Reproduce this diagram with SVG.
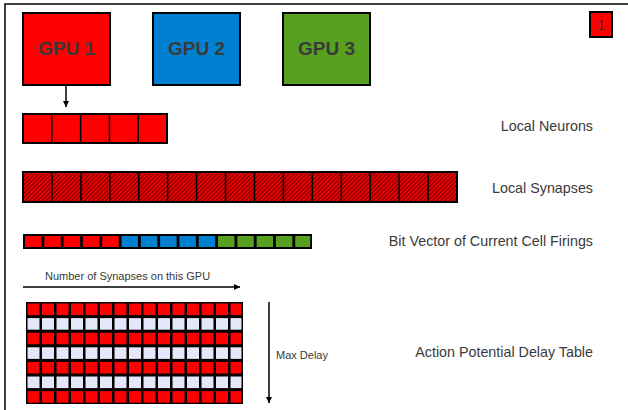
<svg xmlns="http://www.w3.org/2000/svg" width="628" height="410" viewBox="0 0 628 410">
  <style>
    .box { stroke: #000; stroke-width: 2; }
    .cell { stroke: #000; stroke-width: 1.5; }
    .red { fill: #ff0000; }
    .blue { fill: #0080d0; }
    .green { fill: #58a020; }
    .light { fill: #e6e6fa; }
    .gpu { font-family: "Liberation Sans", Arial, sans-serif; font-weight: bold; font-size: 19px; fill: #3a3a3a; text-anchor: middle; }
    .lbl { font-family: "Liberation Sans", Arial, sans-serif; font-size: 14.3px; fill: #3a3a3a; text-anchor: end; }
    .badge { font-family: "Liberation Sans", Arial, sans-serif; font-size: 15px; fill: #333; text-anchor: middle; }
    .small { font-family: "Liberation Sans", Arial, sans-serif; font-size: 11px; fill: #3a3a3a; }
    .line { stroke: #000; stroke-width: 1.5; fill: none; }
  </style>
  <defs>
    <pattern id="hatch" width="3" height="3" patternUnits="userSpaceOnUse" patternTransform="rotate(45)">
      <rect width="3" height="3" fill="#f00000"/>
      <rect width="1.1" height="3" fill="#700000"/>
    </pattern>
    <marker id="arrow" viewBox="0 0 10 10" refX="10" refY="5" markerWidth="6" markerHeight="6" orient="auto" markerUnits="userSpaceOnUse">
      <path d="M0,0 L10,5 L0,10 z" fill="#000"/>
    </marker>
  </defs>

  <rect width="628" height="410" fill="#fff"/>
  <!-- frame -->
  <path d="M5,410 V4 H628" stroke="#000" stroke-width="1.5" fill="none"/>

  <g id="gpu1">
    <rect class="box red" x="23" y="13" width="87" height="72"/>
    <text class="gpu" x="66.5" y="55">GPU 1</text>
  </g>
  <g id="gpu2">
    <rect class="box blue" x="153" y="13" width="87" height="72"/>
    <text class="gpu" x="196.5" y="55">GPU 2</text>
  </g>
  <g id="gpu3">
    <rect class="box green" x="283" y="13" width="87" height="72"/>
    <text class="gpu" x="326.5" y="55">GPU 3</text>
  </g>

  <g id="page-badge">
    <rect class="box red" x="590" y="12" width="22" height="25"/>
    <text class="badge" x="601" y="30">1</text>
  </g>

  <g id="local-neurons">
    <rect class="box red" x="23" y="114" width="144" height="29"/>
    <path class="cell" d="M51.8,114 V143 M80.6,114 V143 M109.4,114 V143 M138.2,114 V143"/>
    <text class="lbl" x="593" y="131">Local Neurons</text>
  </g>

  <g id="local-synapses">
    <rect class="box" x="23" y="172" width="434" height="30" fill="url(#hatch)"/>
    <path class="cell" d="M51.9,172 V202 M80.9,172 V202 M109.8,172 V202 M138.7,172 V202 M167.7,172 V202 M196.6,172 V202 M225.5,172 V202 M254.5,172 V202 M283.4,172 V202 M312.3,172 V202 M341.3,172 V202 M370.2,172 V202 M399.1,172 V202 M428.1,172 V202"/>
    <text class="lbl" x="593" y="193">Local Synapses</text>
  </g>

  <g id="bit-vector">
    <rect x="23" y="234" width="289" height="15" fill="#000"/>
    <g class="red">
      <rect x="25" y="236" width="16.5" height="11"/>
      <rect x="44.3" y="236" width="16.5" height="11"/>
      <rect x="63.6" y="236" width="16.5" height="11"/>
      <rect x="82.9" y="236" width="16.5" height="11"/>
      <rect x="102.2" y="236" width="16.5" height="11"/>
    </g>
    <g class="blue">
      <rect x="121.5" y="236" width="16.5" height="11"/>
      <rect x="140.8" y="236" width="16.5" height="11"/>
      <rect x="160.1" y="236" width="16.5" height="11"/>
      <rect x="179.4" y="236" width="16.5" height="11"/>
      <rect x="198.7" y="236" width="16.5" height="11"/>
    </g>
    <g class="green">
      <rect x="218" y="236" width="16.5" height="11"/>
      <rect x="237.3" y="236" width="16.5" height="11"/>
      <rect x="256.6" y="236" width="16.5" height="11"/>
      <rect x="275.9" y="236" width="16.5" height="11"/>
      <rect x="295.2" y="236" width="15" height="11"/>
    </g>
    <text class="lbl" x="593" y="246">Bit Vector of Current Cell Firings</text>
  </g>

  <g id="delay-table">
    <rect x="26" y="302" width="217" height="102" fill="#000"/>
    <g id="delay-cells">
      <!-- rows of 15 cells, alternating red / light -->
      <g id="row-red">
        <rect class="red" x="27.5" y="303.5" width="12" height="11.6"/>
        <rect class="red" x="42" y="303.5" width="12" height="11.6"/>
        <rect class="red" x="56.5" y="303.5" width="12" height="11.6"/>
        <rect class="red" x="71" y="303.5" width="12" height="11.6"/>
        <rect class="red" x="85.5" y="303.5" width="12" height="11.6"/>
        <rect class="red" x="100" y="303.5" width="12" height="11.6"/>
        <rect class="red" x="114.5" y="303.5" width="12" height="11.6"/>
        <rect class="red" x="129" y="303.5" width="12" height="11.6"/>
        <rect class="red" x="143.5" y="303.5" width="12" height="11.6"/>
        <rect class="red" x="158" y="303.5" width="12" height="11.6"/>
        <rect class="red" x="172.5" y="303.5" width="12" height="11.6"/>
        <rect class="red" x="187" y="303.5" width="12" height="11.6"/>
        <rect class="red" x="201.5" y="303.5" width="12" height="11.6"/>
        <rect class="red" x="216" y="303.5" width="12" height="11.6"/>
        <rect class="red" x="230.5" y="303.5" width="11" height="11.6"/>
      </g>
      <g id="row-light">
        <rect class="light" x="27.5" y="318.1" width="12" height="11.6"/>
        <rect class="light" x="42" y="318.1" width="12" height="11.6"/>
        <rect class="light" x="56.5" y="318.1" width="12" height="11.6"/>
        <rect class="light" x="71" y="318.1" width="12" height="11.6"/>
        <rect class="light" x="85.5" y="318.1" width="12" height="11.6"/>
        <rect class="light" x="100" y="318.1" width="12" height="11.6"/>
        <rect class="light" x="114.5" y="318.1" width="12" height="11.6"/>
        <rect class="light" x="129" y="318.1" width="12" height="11.6"/>
        <rect class="light" x="143.5" y="318.1" width="12" height="11.6"/>
        <rect class="light" x="158" y="318.1" width="12" height="11.6"/>
        <rect class="light" x="172.5" y="318.1" width="12" height="11.6"/>
        <rect class="light" x="187" y="318.1" width="12" height="11.6"/>
        <rect class="light" x="201.5" y="318.1" width="12" height="11.6"/>
        <rect class="light" x="216" y="318.1" width="12" height="11.6"/>
        <rect class="light" x="230.5" y="318.1" width="11" height="11.6"/>
      </g>
      <use href="#row-red" y="29.2"/>
      <use href="#row-light" y="29.2"/>
      <use href="#row-red" y="58.4"/>
      <use href="#row-light" y="58.4"/>
      <use href="#row-red" y="87.6"/>
    </g>
    <text class="lbl" x="593" y="357">Action Potential Delay Table</text>
  </g>

  <g id="connectors">
    <line class="line" x1="66" y1="85" x2="66" y2="107" marker-end="url(#arrow)"/>
    <line class="line" x1="23" y1="287" x2="240" y2="287" marker-end="url(#arrow)"/>
    <text class="small" x="45" y="280">Number of Synapses on this GPU</text>
    <line class="line" x1="269" y1="302" x2="269" y2="403" marker-end="url(#arrow)"/>
    <text class="small" x="276" y="359">Max Delay</text>
  </g>
</svg>
